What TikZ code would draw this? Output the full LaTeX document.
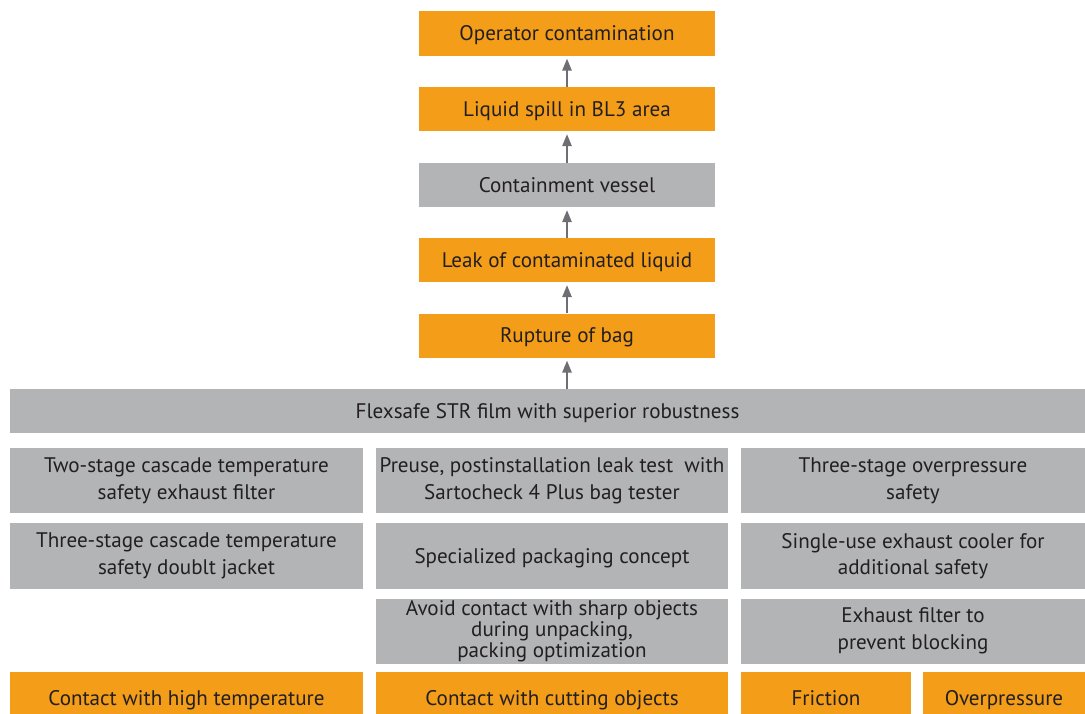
\documentclass[tikz,border=0pt]{standalone}
\usepackage{fontspec}
\setmainfont{PT Sans}
\usetikzlibrary{arrows.meta}
\definecolor{riskorange}{RGB}{243,157,25}
\definecolor{measuregray}{RGB}{178,180,182}
\definecolor{textdark}{RGB}{35,31,32}
\definecolor{arrowgray}{RGB}{110,110,115}
\begin{document}
\begin{tikzpicture}[x=0.025cm,y=-0.025cm,
	box/.style={inner sep=0pt,align=center,text=textdark,font=\fontsize{15}{19}\selectfont},
	oneline/.style={text height=13pt,text depth=3pt},
	risk/.style={box,fill=riskorange},
	measure/.style={box,fill=measuregray},
	topbox/.style={oneline,minimum width=7.42cm,minimum height=1.1cm},
	conn/.style={draw=arrowgray,line width=1.4pt,shorten >=2pt,-{Triangle[length=3mm,width=2.3mm]}}]
	\useasboundingbox (0,0) rectangle (1085,713);
	\node[risk,topbox] (opc) at (567,33.5) {Operator contamination};
	\node[risk,topbox] (spill) at (567,109) {Liquid spill in BL3 area};
	\node[measure,topbox] (vessel) at (567,185) {Containment vessel};
	\node[risk,topbox] (leak) at (567,260) {Leak of contaminated liquid};
	\node[risk,topbox] (rup) at (567,335.5) {Rupture of bag};
	\node[measure,oneline,minimum width=26.875cm,minimum height=1.1cm] (flex) at (547.5,411) {Flexsafe STR film with superior robustness};
	\node[measure,minimum width=8.825cm,minimum height=1.625cm] (tempa) at (186.5,480.5) {Two-stage cascade temperature\\safety exhaust filter};
	\node[measure,minimum width=8.8cm,minimum height=1.625cm] (leaktest) at (552,480.5) {Preuse, postinstallation leak test \ with\\Sartocheck 4 Plus bag tester};
	\node[measure,minimum width=8.6cm,minimum height=1.625cm] (presa) at (913,480.5) {Three-stage overpressure\\safety};
	\node[measure,minimum width=8.825cm,minimum height=1.65cm] (tempb) at (186.5,556) {Three-stage cascade temperature\\safety doublt jacket};
	\node[measure,oneline,minimum width=8.8cm,minimum height=1.65cm] (pack) at (552,556) {Specialized packaging concept};
	\node[measure,minimum width=8.6cm,minimum height=1.65cm] (cooler) at (913,556) {Single-use exhaust cooler for\\additional safety};
	\node[measure,minimum width=8.8cm,minimum height=1.625cm,font=\fontsize{15}{13.2}\selectfont] (sharp) at (552,631) {Avoid contact with sharp objects\\during unpacking,\\packing optimization};
	\node[measure,minimum width=8.6cm,minimum height=1.625cm] (exfilter) at (913,631) {Exhaust filter to\\prevent blocking};
	\node[risk,oneline,minimum width=8.825cm,minimum height=1.3cm] (hot) at (186.5,698) {Contact with high temperature};
	\node[risk,oneline,minimum width=8.8cm,minimum height=1.3cm] (cut) at (552,698) {Contact with cutting objects};
	\node[risk,oneline,minimum width=4.25cm,minimum height=1.3cm] (fric) at (826,698) {Friction};
	\node[risk,oneline,minimum width=4.05cm,minimum height=1.3cm] (over) at (1004,698) {Overpressure};
	\draw[conn] (flex.north -| rup.south) -- (rup.south);
	\draw[conn] (rup.north) -- (leak.south);
	\draw[conn] (leak.north) -- (vessel.south);
	\draw[conn] (vessel.north) -- (spill.south);
	\draw[conn] (spill.north) -- (opc.south);
\end{tikzpicture}
\end{document}
